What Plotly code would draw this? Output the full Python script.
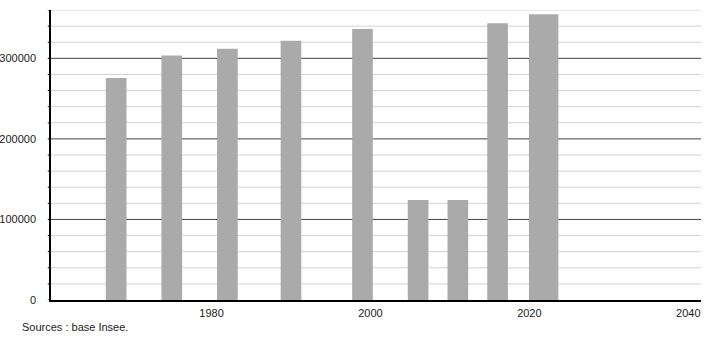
import plotly.graph_objects as go

years = [1968, 1975, 1982, 1990, 1999, 2006, 2011, 2016, 2021.8]
values = [275500, 303500, 311800, 321700, 336400, 124200, 124200, 343400, 354600]
widths = [2.6, 2.6, 2.6, 2.6, 2.6, 2.6, 2.6, 2.6, 3.7]
y_major = [0, 100000, 200000, 300000]
y_minor = list(range(0, 360001, 20000))
x_ticks = [1980, 2000, 2020, 2040]

fig = go.Figure()

# minor grid lines
for v in y_minor:
    if v % 100000 != 0:
        fig.add_shape(type="line", xref="paper", yref="y", x0=0, x1=1, y0=v, y1=v,
                      line=dict(color="#d2d2d2", width=1), layer="below")
# major grid lines
for v in y_major[1:]:
    fig.add_shape(type="line", xref="paper", yref="y", x0=0, x1=1, y0=v, y1=v,
                  line=dict(color="#444444", width=1), layer="below")
# tick marks on y axis (every minor step)
for v in y_minor:
    fig.add_shape(type="line", xref="paper", yref="y", x0=-0.005, x1=0, y0=v, y1=v,
                  line=dict(color="#000000", width=1))

fig.add_trace(go.Bar(x=years, y=values, width=widths,
                     marker=dict(color="#aaaaaa", line=dict(width=0)),
                     hoverinfo="x+y"))

fig.update_layout(
    width=710, height=340,
    margin=dict(l=51, r=9, t=10, b=40),
    plot_bgcolor="white", paper_bgcolor="white",
    showlegend=False,
    font=dict(family="Liberation Sans, Arial, sans-serif", size=11, color="#222222"),
    xaxis=dict(range=[1959.8, 2041.6], tickmode="array", tickvals=x_ticks,
               ticktext=[str(t) for t in x_ticks], showgrid=False, zeroline=False,
               showline=True, linecolor="#000000", linewidth=1.5, ticks="",
               ticklabelstandoff=2, automargin=False),
    yaxis=dict(range=[0, 360000], tickmode="array", tickvals=y_major,
               ticktext=[str(t) for t in y_major], showgrid=False, zeroline=False,
               showline=True, linecolor="#000000", linewidth=1.5, ticks="",
               ticklabelstandoff=11, automargin=False),
    annotations=[dict(text="Sources : base Insee.", xref="paper", yref="paper",
                      x=-0.048, y=-0.093, xanchor="left", yanchor="middle",
                      showarrow=False, font=dict(size=11, color="#222222"))],
)

fig.write_html("out.html")
